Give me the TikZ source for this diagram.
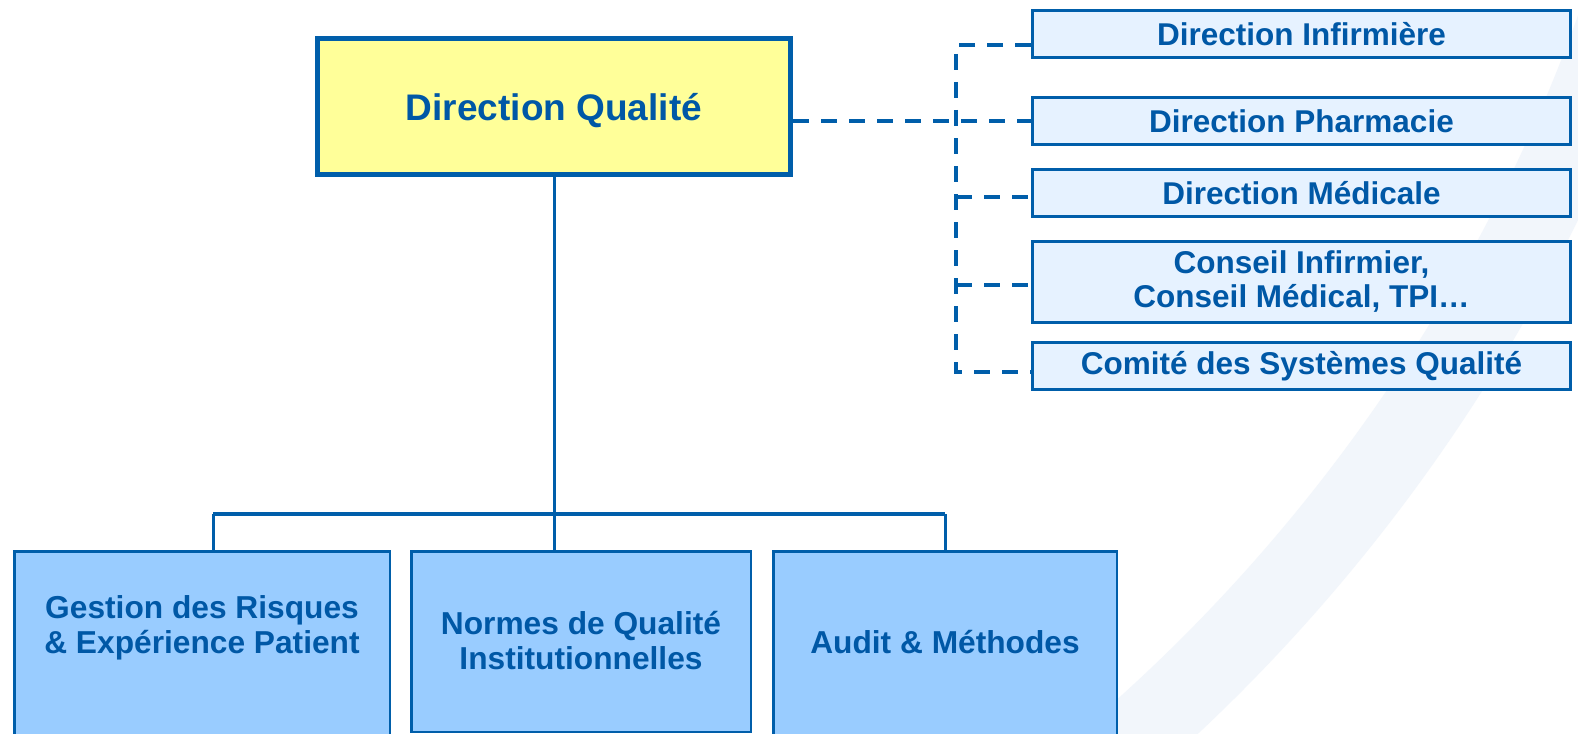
\documentclass[tikz,border=0pt]{standalone}
\usepackage{fontspec}
\setmainfont{Liberation Sans}
\definecolor{lineblue}{RGB}{0,94,170}
\definecolor{textblue}{RGB}{0,88,166}
\definecolor{qyellow}{RGB}{255,255,153}
\definecolor{sidefill}{RGB}{230,242,255}
\definecolor{unitfill}{RGB}{153,204,255}
\definecolor{bandcol}{RGB}{242,246,251}
\tikzset{
  mainbox/.style={draw=lineblue, line width=5pt, fill=qyellow, minimum width=473pt, minimum height=136pt, inner sep=0pt, text=textblue, text depth=0pt, font=\fontsize{37pt}{44pt}\selectfont\bfseries},
  sidebox/.style={draw=lineblue, line width=3pt, fill=sidefill, minimum width=538pt, inner sep=0pt, text=textblue, align=center, font=\fontsize{31.5pt}{34pt}\selectfont\bfseries},
  unitbox/.style={draw=lineblue, line width=2.5pt, fill=unitfill, inner sep=0pt},
  unittext/.style={text=textblue, align=center, anchor=base, inner sep=0pt, font=\fontsize{31.7pt}{35pt}\selectfont\bfseries},
  dashcon/.style={draw=lineblue, line width=3.5pt, dash pattern=on 16pt off 12pt},
  solidcon/.style={draw=lineblue, line width=3pt},
}
\begin{document}
\begin{tikzpicture}[x=1pt, y=-1pt]
\useasboundingbox (0,0) rectangle (1578,733);
\fill[white] (0,0) rectangle (1578,733);
\begin{scope}
  \clip (0,0) rectangle (1578,733);
  \fill[bandcol, even odd rule] (-14,-559) circle[radius=1772pt] (-14,-559) circle[radius=1692pt];
\end{scope}

% main box
\node[mainbox] (main) at (554,106.5) {Direction Qualité};

% side boxes
\node[sidebox, minimum height=47pt] (b1) at (1301.5,34) {Direction Infirmière};
\node[sidebox, minimum height=47pt] (b2) at (1301.5,121) {Direction Pharmacie};
\node[sidebox, minimum height=47pt] (b3) at (1301.5,193) {Direction Médicale};
\node[sidebox, minimum height=81pt] (b4) at (1301.5,282) {Conseil Infirmier,\\Conseil Médical, TPI…};
\node[sidebox, minimum height=47pt] (b5) at (1301.5,366) {Comité des Systèmes Qualité};

% bottom boxes
\node[unitbox, minimum width=375.5pt, minimum height=217.5pt] (bA) at (202,660) {};
\node[unitbox, minimum width=339.5pt, minimum height=180.5pt] (bB) at (581,641.5) {};
\node[unitbox, minimum width=343.5pt, minimum height=217.5pt] (bC) at (945,660) {};
\node[unittext] (tA) at (202,653) {Gestion des Risques\\\& Expérience Patient};
\node[unittext] (tB) at (581,669) {Normes de Qualité\\Institutionnelles};
\node[unittext] (tC) at (945,653) {Audit \& Méthodes};

% solid connectors
\coordinate (jA) at (213,514);
\coordinate (jC) at (945,514);
\draw[solidcon] (main.south) -- (main.south |- bB.north);
\draw[solidcon, line width=3.5pt] (jA) -- (jC);
\draw[solidcon] (jA) -- (jA |- bA.north);
\draw[solidcon] (jC) -- (bC.north);

% dashed connectors
\coordinate (v1) at (956,45);
\coordinate (v3) at (956,197);
\coordinate (v4) at (956,285);
\coordinate (v5) at (956,372);
\draw[dashcon] (main.east |- b2.west) -- (b2.west);
\draw[dashcon] (b1.west |- v1) -- (v1) -- (v5) -- (b5.west |- v5);
\draw[dashcon] (v3) -- (b3.west |- v3);
\draw[dashcon] (v4) -- (b4.west |- v4);
\end{tikzpicture}
\end{document}
